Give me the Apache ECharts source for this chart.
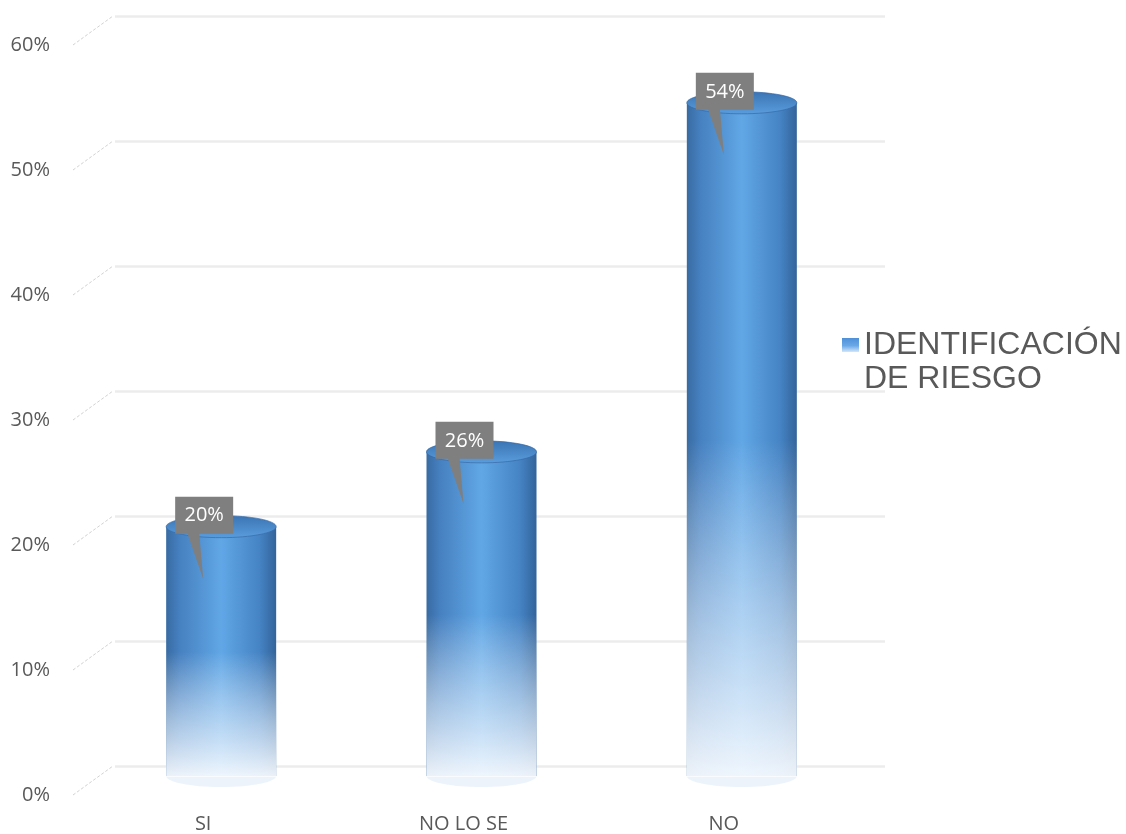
<!DOCTYPE html>
<html>
<head>
<meta charset="utf-8">
<script src="https://cdn.jsdelivr.net/npm/echarts@6/dist/echarts.min.js"></script>
<style>
html, body { margin: 0; padding: 0; background: #fff; }
#main { width: 1126px; height: 834px; }
</style>
</head>
<body>
<div id="main"></div>
<script>
// datos del grafico
const categories = ['SI', 'NO LO SE', 'NO'];
const values = [20, 26, 54];
const seriesName = 'IDENTIFICACIÓN DE RIESGO';
const yTicks = [0, 10, 20, 30, 40, 50, 60];

const FONT = '"Open Sans", "Noto Sans", sans-serif';
const grayText = '#595959';

const chart = echarts.init(document.getElementById('main'));

// cilindro 3D con etiqueta tipo globo
function cylinder(params, api) {
    const top = api.coord([api.value(0), api.value(1)]);
    const base = api.coord([api.value(0), 0]);
    const rx = 55, ry = 11;
    const cx = top[0];
    const h = base[1] - top[1];
    const side = new echarts.graphic.LinearGradient(0, 0, 1, 0, [
        { offset: 0, color: '#386ba2' },
        { offset: 0.12, color: '#4680c0' },
        { offset: 0.5, color: '#61a7e6' },
        { offset: 0.85, color: '#4583c4' },
        { offset: 1, color: '#33649a' }
    ]);
    const fade = new echarts.graphic.LinearGradient(0, 0, 0, 1, [
        { offset: 0, color: 'rgba(255,255,255,0)' },
        { offset: 0.5, color: 'rgba(255,255,255,0)' },
        { offset: 0.78, color: 'rgba(232,242,252,0.6)' },
        { offset: 1, color: 'rgba(250,252,255,0.93)' }
    ]);
    const cap = new echarts.graphic.LinearGradient(0, 0, 0, 1, [
        { offset: 0, color: '#3a73b3' },
        { offset: 1, color: '#5a9ddd' }
    ]);
    const bx = cx - rx + 9, by = top[1] - 30;
    return {
        type: 'group',
        children: [
            { type: 'ellipse', shape: { cx: cx, cy: base[1], rx: rx, ry: ry }, style: { fill: 'rgba(228,238,250,0.7)' } },
            { type: 'rect', shape: { x: cx - rx, y: top[1], width: 2 * rx, height: h }, style: { fill: side } },
            { type: 'rect', shape: { x: cx - rx, y: top[1], width: 2 * rx, height: h + 1 }, style: { fill: fade } },
            { type: 'ellipse', shape: { cx: cx, cy: top[1], rx: rx, ry: ry }, style: { fill: cap, stroke: 'rgba(55,105,165,0.7)', lineWidth: 1 } },
            { type: 'polygon', shape: { points: [[bx + 12, by + 36], [bx + 24, by + 36], [bx + 28, top[1] + 52]] }, style: { fill: '#7f7f7f' } },
            { type: 'rect', shape: { x: bx, y: by, width: 58, height: 37 }, style: { fill: '#7f7f7f' } },
            {
                type: 'text',
                style: {
                    x: bx + 29, y: by + 19, text: api.value(1) + '%',
                    fill: '#ffffff', font: '20px ' + FONT,
                    align: 'center', verticalAlign: 'middle',
                    textAlign: 'center', textVerticalAlign: 'middle'
                }
            }
        ]
    };
}

// lineas diagonales entre las etiquetas y la pared del fondo
function stub(params, api) {
    const p = api.coord([0, api.value(1)]);
    return {
        type: 'line',
        shape: { x1: p[0], y1: p[1], x2: p[0] + 40, y2: p[1] - 29 },
        style: { stroke: '#d2d2d2', lineWidth: 1, lineDash: [3, 2] }
    };
}

const legendGrad = new echarts.graphic.LinearGradient(0, 0, 0, 1, [
    { offset: 0, color: '#4f8fd6' },
    { offset: 0.55, color: '#69a8e8' },
    { offset: 1, color: '#d3e6f8' }
]);

const option = {
    backgroundColor: '#ffffff',
    animation: false,
    grid: [
        { left: 91, top: 28, width: 781, height: 750 },   // barras
        { left: 115, top: 16, width: 770, height: 750 },  // pared del fondo
        { left: 73, top: 45, width: 40, height: 750 }     // etiquetas frontales
    ],
    xAxis: [
        {
            gridIndex: 0, type: 'category', data: categories,
            axisLine: { show: false }, axisTick: { show: false },
            axisLabel: { color: grayText, fontSize: 20, fontFamily: FONT, margin: 38, padding: [0, 36, 0, 0] }
        },
        { gridIndex: 1, type: 'value', show: false },
        { gridIndex: 2, type: 'value', min: 0, max: 1, show: false }
    ],
    yAxis: [
        { gridIndex: 0, type: 'value', min: 0, max: 60, show: false },
        {
            gridIndex: 1, type: 'value', min: 0, max: 60, interval: 10,
            axisLine: { show: false }, axisTick: { show: false }, axisLabel: { show: false },
            splitLine: { show: true, lineStyle: { color: '#ececec', width: 2.5 } }
        },
        {
            gridIndex: 2, type: 'value', min: 0, max: 60, interval: 10,
            axisLine: { show: false }, axisTick: { show: false }, splitLine: { show: false },
            axisLabel: { formatter: '{value}%', color: grayText, fontSize: 20, fontFamily: FONT, margin: 23 }
        }
    ],
    legend: {
        orient: 'vertical',
        left: 842,
        top: 294,
        padding: 0,
        icon: 'rect',
        itemWidth: 17,
        itemHeight: 14,
        data: [{ name: seriesName, itemStyle: { color: legendGrad } }],
        // linea vacia arriba para que el icono quede junto a la primera linea
        formatter: function (name) { return '\n' + name.replace(' DE ', '\nDE '); },
        textStyle: {
            fontFamily: '"Liberation Sans", Arial, sans-serif',
            fontSize: 32, color: grayText, lineHeight: 34
        }
    },
    series: [
        {
            name: seriesName,
            type: 'custom',
            xAxisIndex: 0, yAxisIndex: 0,
            itemStyle: { color: legendGrad },
            renderItem: cylinder,
            data: categories.map(function (c, i) { return [i, values[i]]; }),
            z: 3
        },
        {
            name: 'ticks',
            type: 'custom',
            xAxisIndex: 2, yAxisIndex: 2,
            renderItem: stub,
            data: yTicks.map(function (v) { return [0, v]; }),
            silent: true,
            z: 1
        }
    ]
};

chart.setOption(option);
</script>
</body>
</html>
